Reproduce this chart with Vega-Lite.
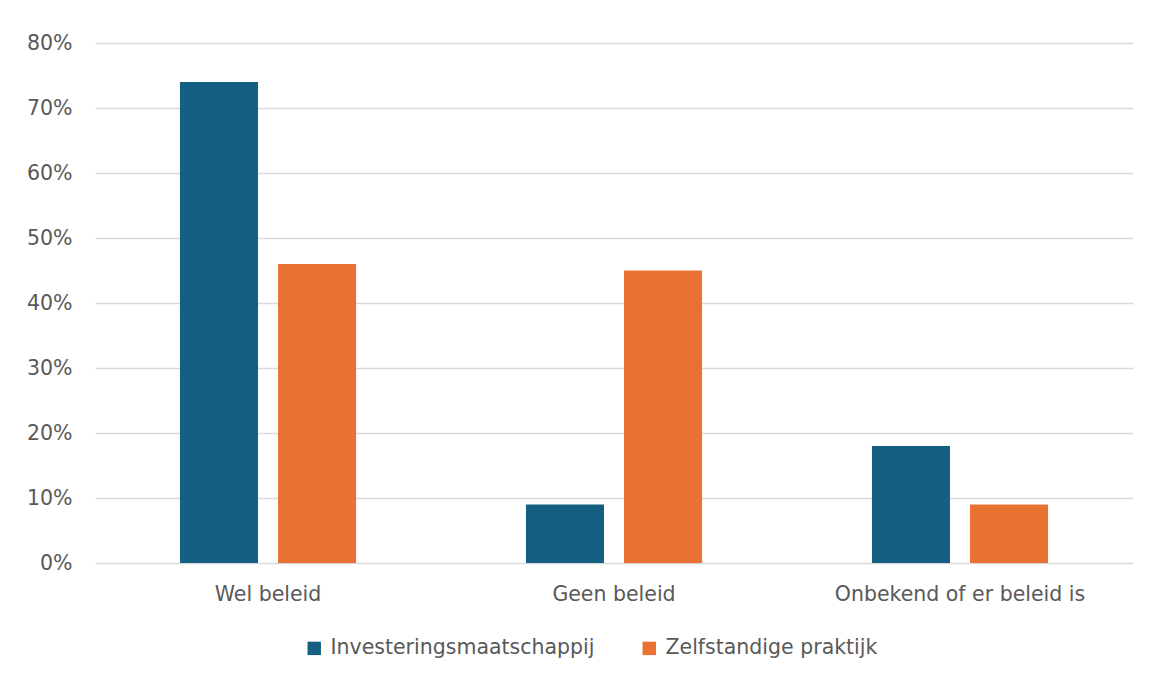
{
  "$schema": "https://vega.github.io/schema/vega-lite/v6.json",
  "width": 1038,
  "height": 520,
  "autosize": "none",
  "padding": {"left": 95, "top": 43, "right": 21, "bottom": 114},
  "background": "white",
  "data": {
    "values": [
      {"beleid": "Wel beleid", "type": "Investeringsmaatschappij", "pct": 0.74},
      {"beleid": "Wel beleid", "type": "Zelfstandige praktijk", "pct": 0.46},
      {"beleid": "Geen beleid", "type": "Investeringsmaatschappij", "pct": 0.09},
      {"beleid": "Geen beleid", "type": "Zelfstandige praktijk", "pct": 0.45},
      {"beleid": "Onbekend of er beleid is", "type": "Investeringsmaatschappij", "pct": 0.18},
      {"beleid": "Onbekend of er beleid is", "type": "Zelfstandige praktijk", "pct": 0.09}
    ]
  },
  "mark": {"type": "bar"},
  "encoding": {
    "x": {
      "field": "beleid",
      "type": "nominal",
      "sort": ["Wel beleid", "Geen beleid", "Onbekend of er beleid is"],
      "scale": {"paddingInner": 0.491, "paddingOuter": 0.2455},
      "axis": {"title": null, "labelAngle": 0, "domain": false, "ticks": false, "labelPadding": 21, "labelLimit": 0}
    },
    "xOffset": {
      "field": "type",
      "type": "nominal",
      "sort": ["Investeringsmaatschappij", "Zelfstandige praktijk"],
      "scale": {"paddingInner": 0.204, "paddingOuter": 0}
    },
    "y": {
      "field": "pct",
      "type": "quantitative",
      "scale": {"domain": [0, 0.8], "nice": false},
      "axis": {
        "title": null,
        "format": ".0%",
        "values": [0, 0.1, 0.2, 0.3, 0.4, 0.5, 0.6, 0.7, 0.8],
        "domain": false,
        "ticks": false,
        "labelPadding": 23
      }
    },
    "color": {
      "field": "type",
      "type": "nominal",
      "sort": ["Investeringsmaatschappij", "Zelfstandige praktijk"],
      "scale": {"range": ["#156082", "#E97132"]},
      "legend": {
        "title": null,
        "orient": "none",
        "direction": "horizontal",
        "legendX": 209,
        "legendY": 595,
        "symbolType": "square",
        "symbolSize": 180,
        "symbolStrokeWidth": 0,
        "symbolOpacity": 1,
        "labelOffset": 6,
        "labelLimit": 0,
        "columnPadding": 44
      }
    }
  },
  "config": {
    "view": {"stroke": null},
    "font": "DejaVu Sans",
    "axis": {
      "labelFont": "DejaVu Sans",
      "labelFontSize": 20.5,
      "labelColor": "#595959",
      "gridColor": "#D9D9D9",
      "gridWidth": 1.5
    },
    "legend": {
      "labelFont": "DejaVu Sans",
      "labelFontSize": 20.5,
      "labelColor": "#595959"
    }
  }
}
